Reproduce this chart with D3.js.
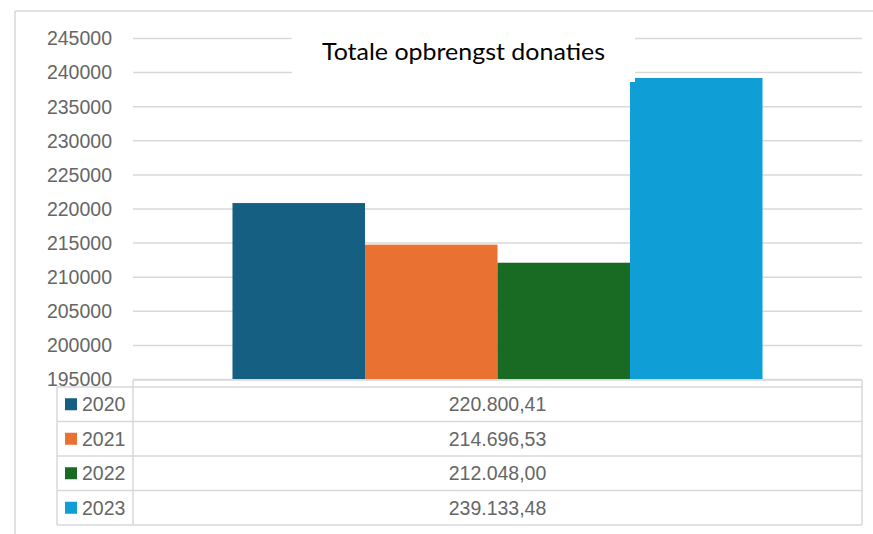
<!DOCTYPE html>
<html>
<head>
<meta charset="utf-8">
<script src="https://cdn.jsdelivr.net/npm/d3@7"></script>
<style>
  html, body { margin: 0; padding: 0; background: #fff; }
  svg { display: block; }
</style>
</head>
<body>
<svg id="chart" width="873" height="534"></svg>
<script>
const title = "Totale opbrengst donaties";
const years = ["2020", "2021", "2022", "2023"];
const values = [220800.41, 214696.53, 212048.00, 239133.48];
const valueLabels = ["220.800,41", "214.696,53", "212.048,00", "239.133,48"];
const colors = ["#155F82", "#E97132", "#196B24", "#0F9ED5"];
const yTicks = [195000, 200000, 205000, 210000, 215000, 220000, 225000, 230000, 235000, 240000, 245000];

const svg = d3.select("#chart");
const grid = "#d9d9d9";
const textCol = "#666666";
const font = "'Liberation Sans', Arial, sans-serif";

const plotL = 133, plotR = 862, plotT = 38, plotB = 379;

// outer frame
svg.append("line").attr("x1", 15).attr("x2", 873).attr("y1", 11).attr("y2", 11)
  .attr("stroke", grid).attr("stroke-width", 1.5);
svg.append("line").attr("x1", 15).attr("x2", 15).attr("y1", 11).attr("y2", 534)
  .attr("stroke", grid).attr("stroke-width", 1.5);

const y = d3.scaleLinear().domain([195000, 245000]).range([plotB, plotT]);
const x0 = d3.scaleBand().domain(["all"]).range([plotL, plotR]).paddingOuter(0.1877).paddingInner(0);
const x1 = d3.scaleBand().domain(years).range([x0("all"), x0("all") + x0.bandwidth()]);

// gridlines
const gridAxis = d3.axisRight(y).tickValues(yTicks).tickSize(plotR - plotL).tickFormat("");
const gg = svg.append("g").attr("transform", `translate(${plotL},0)`).call(gridAxis);
gg.select(".domain").remove();
gg.selectAll(".tick line").attr("stroke", grid).attr("stroke-width", 1.5);

// labels
const labAxis = d3.axisLeft(y).tickValues(yTicks).tickSize(0).tickPadding(21).tickFormat(d3.format("d"));
const lg = svg.append("g").attr("transform", `translate(${plotL},0)`).call(labAxis);
lg.select(".domain").remove();
lg.selectAll(".tick text").attr("fill", textCol).attr("font-family", font).attr("font-size", 19.5).attr("dy", "0.35em");

// bars
svg.append("g").selectAll("rect").data(years).join("rect")
  .attr("x", d => x1(d))
  .attr("width", x1.bandwidth())
  .attr("y", (d, i) => y(values[i]))
  .attr("height", (d, i) => y(195000) - y(values[i]))
  .attr("fill", (d, i) => colors[i]);

// title box
svg.append("rect").attr("x", 292).attr("y", 26).attr("width", 343).attr("height", 56).attr("fill", "#fff");
svg.append("text").attr("x", 463.5).attr("y", 60).attr("text-anchor", "middle")
  .attr("font-family", "Lato, 'Open Sans', sans-serif").attr("font-size", 22.5)
  .attr("fill", "#000").attr("textLength", 283).attr("lengthAdjust", "spacingAndGlyphs")
  .text(title);

// data table
const tTop = 380, hdrB = 387, rowH = 34.5, colL = 57, colM = 133, colR = 862;
const tb = svg.append("g").attr("stroke", grid).attr("stroke-width", 1.5);
const tBot = hdrB + rowH * years.length;
tb.append("line").attr("x1", colM).attr("x2", colR).attr("y1", tTop).attr("y2", tTop);
tb.append("line").attr("x1", colM).attr("x2", colM).attr("y1", tTop).attr("y2", tBot);
tb.append("line").attr("x1", colR).attr("x2", colR).attr("y1", tTop).attr("y2", tBot);
tb.append("line").attr("x1", colL).attr("x2", colL).attr("y1", hdrB).attr("y2", tBot);
for (let i = 0; i <= years.length; i++) {
  tb.append("line").attr("x1", colL).attr("x2", colR)
    .attr("y1", hdrB + rowH * i).attr("y2", hdrB + rowH * i);
}

const rows = svg.append("g").selectAll("g").data(years).join("g")
  .attr("transform", (d, i) => `translate(0,${hdrB + rowH * i + rowH / 2})`);
rows.append("rect").attr("x", 65).attr("y", -6).attr("width", 12).attr("height", 12)
  .attr("fill", (d, i) => colors[i]);
rows.append("text").attr("x", 82).attr("dy", "0.35em")
  .attr("font-family", font).attr("font-size", 19.5).attr("fill", textCol).text(d => d);
rows.append("text").attr("x", (colM + colR) / 2).attr("dy", "0.35em").attr("text-anchor", "middle")
  .attr("font-family", font).attr("font-size", 19.5).attr("fill", textCol)
  .text((d, i) => valueLabels[i]);
</script>
</body>
</html>
